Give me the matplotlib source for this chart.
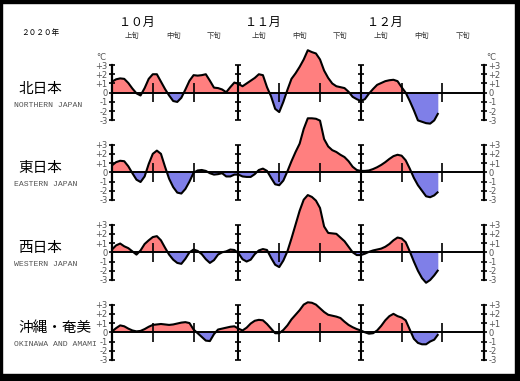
import numpy as np
import pandas as pd
import matplotlib
matplotlib.use("Agg")
import matplotlib.pyplot as plt
import matplotlib.transforms as mtransforms
from matplotlib.patches import Rectangle

# ---------------- data ----------------
dates = pd.date_range("2020-10-01", "2020-12-20", freq="D")
start = pd.Timestamp("2020-10-01")

regions_ja = ["北日本", "東日本", "西日本", "沖縄・奄美"]
regions_en = ["NORTHERN JAPAN", "EASTERN JAPAN", "WESTERN JAPAN", "OKINAWA AND AMAMI"]

north = [1.2, 1.45, 1.55, 1.5, 1.05, 0.45, -0.07, -0.3, 0.5, 1.5,
         2.0, 2.0, 1.2, 0.4, -0.3, -0.9, -1.0, -0.55, 0.35, 1.3,
         1.9, 1.85, 1.9, 2.0, 1.3, 0.55, 0.5, 0.35, 0.05, 0.6,
         1.1, 0.95, 0.7, 1.0, 1.3, 1.6, 2.0, 1.9, 0.6, -0.4,
         -1.75, -2.1, -1.0, 0.3, 1.5, 2.1, 2.8, 3.6, 4.6, 4.4,
         4.25, 3.6, 2.4, 1.6, 1.0, 0.7, 0.6, 0.5, 0.1, -0.45,
         -0.7, -0.9, -0.7, -0.1, 0.4, 0.85, 1.05, 1.25, 1.35, 1.4,
         1.25, 0.6, 0.0, -0.9, -1.9, -3.0, -3.15, -3.3, -3.35, -3.0,
         -2.2]
east = [0.75, 1.1, 1.25, 1.2, 0.65, -0.1, -0.8, -1.05, -0.45, 0.9,
        2.0, 2.35, 2.0, 0.6, -0.7, -1.6, -2.2, -2.3, -1.8, -1.0,
        -0.05, 0.2, 0.25, 0.15, -0.1, -0.25, -0.2, -0.1, -0.45, -0.45,
        -0.25, -0.25, -0.45, -0.5, -0.5, -0.2, 0.25, 0.4, 0.15, -0.6,
        -1.3, -1.4, -0.9, 0.1, 1.2, 2.2, 3.1, 4.7, 5.85, 5.85,
        5.8, 5.6, 3.6, 2.8, 2.4, 2.2, 1.9, 1.65, 1.2, 0.6,
        0.25, 0.15, 0.15, 0.2, 0.35, 0.55, 0.8, 1.1, 1.45, 1.75,
        1.9, 1.8, 1.3, 0.4, -0.6, -1.4, -2.0, -2.6, -2.7, -2.5,
        -2.1]
west = [0.3, 0.75, 0.95, 0.65, 0.45, 0.1, -0.25, 0.2, 0.9, 1.3,
        1.65, 1.75, 1.3, 0.5, -0.25, -0.8, -1.15, -1.25, -0.7, 0.0,
        0.3, 0.15, -0.2, -0.75, -1.15, -0.85, -0.25, 0.0, 0.1, 0.3,
        0.25, -0.1, -0.75, -1.0, -0.8, -0.2, 0.2, 0.35, 0.25, -0.6,
        -1.35, -1.6, -0.9, 0.1, 1.5, 3.0, 4.5, 5.7, 6.2, 6.0,
        5.6, 4.8, 2.8, 2.1, 2.05, 2.0, 1.6, 1.2, 0.6, 0.0,
        -0.3, -0.3, -0.15, 0.05, 0.2, 0.3, 0.4, 0.6, 0.9, 1.3,
        1.6, 1.5, 1.1, 0.1, -1.0, -2.0, -2.8, -3.3, -3.0, -2.5,
        -1.9]
okinawa = [0.1, 0.45, 0.75, 0.65, 0.4, 0.2, 0.1, 0.15, 0.35, 0.6,
           0.8, 0.85, 0.9, 0.85, 0.8, 0.85, 0.95, 1.05, 1.1, 1.0,
           0.3, -0.1, -0.5, -0.9, -0.95, -0.2, 0.3, 0.4, 0.5, 0.6,
           0.65, 0.4, 0.2, 0.5, 0.95, 1.25, 1.35, 1.3, 0.9, 0.4,
           -0.1, -0.1, 0.25, 0.75, 1.4, 1.9, 2.4, 3.0, 3.25, 3.2,
           3.0, 2.6, 2.2, 1.9, 1.8, 1.7, 1.55, 1.15, 0.8, 0.55,
           0.35, 0.2, 0.0, -0.15, -0.1, 0.2, 0.7, 1.3, 1.75, 2.0,
           1.75, 1.6, 1.3, 0.3, -0.7, -1.15, -1.3, -1.3, -1.0, -0.8,
           -0.2]
series = [north, east, west, okinawa]

month_labels = ["１０月", "１１月", "１２月"]
month_starts = ["2020-10-01", "2020-11-01", "2020-12-01"]
dekad_labels = ["上旬", "中旬", "下旬"]
ytick_vals = [-3, -2, -1, 0, 1, 2, 3]
ytick_text = ["-3", "-2", "-1", "0", "+1", "+2", "+3"]

# ---------------- layout ----------------
W, H = 520, 381
fig = plt.figure(figsize=(W / 100, H / 100), dpi=100)
fig.patch.set_facecolor("white")

CJK = ["Noto Sans CJK JP", "DejaVu Sans"]
RED = "#FF7F7F"
BLUE = "#7F7FE8"
GREY = "#555555"

def fx(px):
    return px / W

def fy(py):
    return 1 - py / H

x = np.array([(d - start).days for d in dates])
mstart = np.array([(pd.Timestamp(m) - start).days for m in month_starts])
dekad_ticks = np.concatenate([[m + 10, m + 20] for m in mstart])

zero_y = [92.7, 172.3, 252.3, 332.3]
unit = 9.23
axes = []
for i, (vals, zy) in enumerate(zip(series, zero_y)):
    v = np.array(vals)
    ax = fig.add_axes([fx(112), fy(zy + 3 * unit), 372 / W, 6 * unit / H])
    ax.set_facecolor("none")
    ax.set_xlim(0, 91.2)
    ax.set_ylim(-3, 3)
    for s in ["top", "bottom"]:
        ax.spines[s].set_visible(False)
    for s in ["left", "right"]:
        ax.spines[s].set_linewidth(1.6)
    ax.set_xticks([])
    ax.set_yticks(ytick_vals)
    ax.set_yticklabels(ytick_text)
    ax.tick_params(axis="y", left=True, right=True, labelleft=True, labelright=True,
                   direction="inout", length=4.5, width=1.2, labelsize=6,
                   labelcolor=GREY, pad=1)

    ax.fill_between(x, v, 0, where=v >= 0, interpolate=True, color=RED, lw=0,
                    clip_on=False, zorder=1)
    ax.fill_between(x, v, 0, where=v <= 0, interpolate=True, color=BLUE, lw=0,
                    clip_on=False, zorder=1)
    ax.axhline(0, color="black", lw=1.4, zorder=2)
    ax.vlines(mstart[1:], -3, 3, color="black", lw=1.5, zorder=2)
    for m in mstart[1:]:
        ax.plot([m] * len(ytick_vals), ytick_vals, ls="none", marker="_",
                ms=4.5, mew=1.2, color="black", zorder=2, clip_on=False)
    ax.vlines(dekad_ticks, -1, 1, color="black", lw=1.2, zorder=2)
    ax.plot(x, v, color="black", lw=1.5, clip_on=False, zorder=3,
            solid_joinstyle="round", solid_capstyle="butt")

    fig.text(fx(18), fy(zy - 4), regions_ja[i], fontsize=10.5, family=CJK,
             ha="left", va="center")
    fig.text(fx(14), fy(zy + 12.5), regions_en[i], fontsize=5.9,
             family="Liberation Mono", color=GREY, ha="left", va="center")
    axes.append(ax)

# header texts
ax0 = axes[0]
trans = mtransforms.blended_transform_factory(ax0.transData, fig.transFigure)
for lab, m in zip(month_labels, mstart):
    ax0.text(m + 6, fy(22), lab, transform=trans, fontsize=8.6, family=CJK,
             ha="center", va="center")
    for j, dl in enumerate(dekad_labels):
        ax0.text(m + 10 * j + 5, fy(36), dl, transform=trans, fontsize=5.3,
                 family=CJK, ha="center", va="center", color="#333333")

fig.text(fx(40), fy(33), "２０２０年", fontsize=5.5, family=CJK, ha="center",
         va="center")
fig.text(fx(101), fy(57), "°C", fontsize=6, color=GREY, ha="center", va="center")
fig.text(fx(491), fy(57), "°C", fontsize=6, color=GREY, ha="center", va="center")

# frame
for (x0, y0, w, h) in [(0, 0, W, 3), (0, 0, 2, H), (W - 5, 0, 5, H), (0, H - 7, W, 7)]:
    fig.patches.append(Rectangle((fx(x0), fy(y0 + h)), w / W, h / H,
                                 transform=fig.transFigure, color="black",
                                 zorder=10))

fig.savefig("out.png", dpi=100)
